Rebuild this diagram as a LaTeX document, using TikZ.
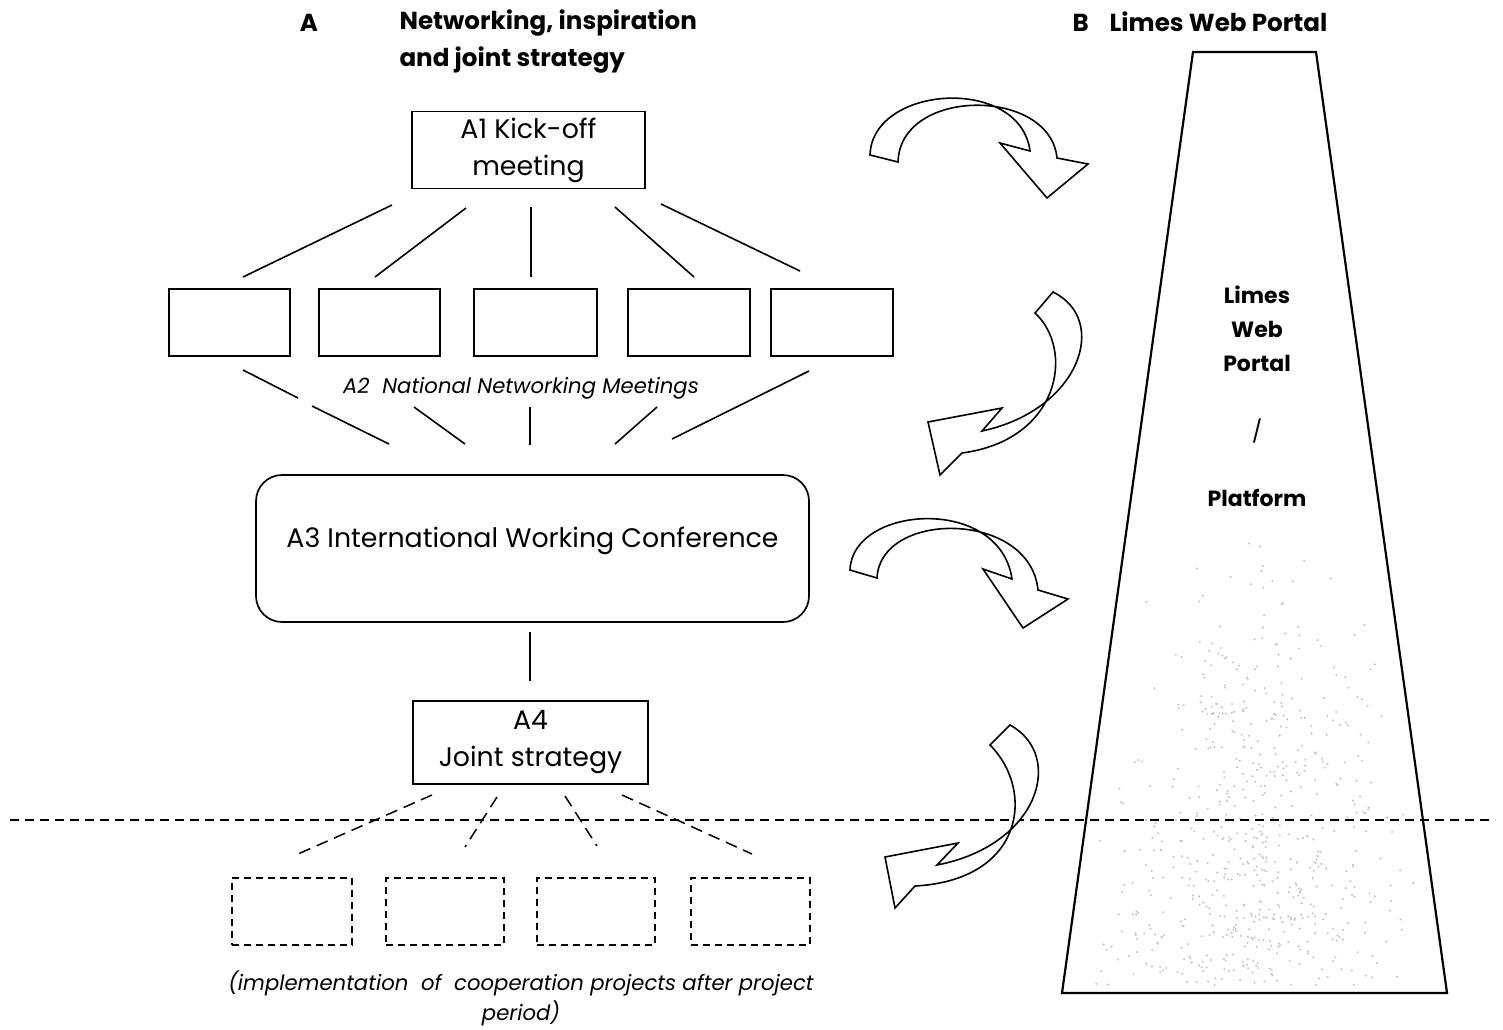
\documentclass[tikz,border=0pt]{standalone}
\usepackage{fontspec}
\setmainfont{Poppins}
\begin{document}
\begin{tikzpicture}[x=1pt,y=-1pt,
  solidbox/.style={draw, line width=1.7pt, inner sep=0pt, minimum height=67pt},
  dashbox/.style={draw, line width=1.5pt, dash pattern=on 7pt off 5pt, inner sep=0pt, minimum width=119pt, minimum height=67pt},
  link/.style={line width=1.6pt},
  dlink/.style={line width=1.5pt, dash pattern=on 12pt off 7pt},
  bigarrow/.style={draw, line width=1.6pt, fill=white, line join=miter},
  boxtext/.style={font=\fontsize{26.8}{37}\selectfont, align=center},
  headtext/.style={font=\fontsize{24.6}{37}\selectfont\bfseries},
  conetext/.style={font=\fontsize{22}{34}\selectfont\bfseries, align=center},
  ittext/.style={font=\fontsize{21.2}{30}\selectfont\itshape, align=center},
  cone/.style={draw, line width=2.2pt, line join=miter}
]
\useasboundingbox (0,0) rectangle (1503,1029);

% headings
\node[headtext] (hA) at (309,23) {A};
\node[headtext, anchor=west, align=left] (hAt) at (396,42) {Networking, inspiration\\and joint strategy};
\node[headtext, anchor=west] (hB) at (1069,22) {B\hspace{21pt}Limes Web Portal};

% trapezoid with stipple
\draw[cone] (1193,52) -- (1316,52) -- (1447,993) -- (1062,993) -- cycle;
\pgfmathsetseed{7}
\foreach \i in {1,...,650}{
  \pgfmathsetmacro\ty{540+445*sqrt(rnd)}
  \pgfmathsetmacro\fr{(\ty-52)/941}
  \pgfmathsetmacro\xl{1193-131*\fr}
  \pgfmathsetmacro\xr{1316+131*\fr}
  \pgfmathsetmacro\tx{\xl+10+(\xr-\xl-20)*(rnd+rnd)/2}
  \fill[gray!50] (\tx,\ty) circle (1.1pt);
}
\node[conetext] (wp) at (1257,329) {Limes\\Web\\Portal};
\node[conetext, font=\fontsize{22}{34}\selectfont] (sl) at (1257,431) {/};
\node[conetext] (pf) at (1257,498) {Platform};

% A1
\node[solidbox, minimum width=233pt, minimum height=77pt, boxtext] (a1) at (528.5,150) {A1 Kick-off\\meeting};

% five national boxes
\node[solidbox, minimum width=121pt] (n1) at (229.5,322.5) {};
\node[solidbox, minimum width=121pt] (n2) at (379.5,322.5) {};
\node[solidbox, minimum width=123pt] (n3) at (535.5,322.5) {};
\node[solidbox, minimum width=122pt] (n4) at (689,322.5) {};
\node[solidbox, minimum width=122pt] (n5) at (832,322.5) {};

% links A1 -> national boxes
\coordinate (t1) at (392,205); \coordinate (b1) at (243,277);
\coordinate (t2) at (466,208); \coordinate (b2) at (375,277);
\coordinate (t3) at (531,207); \coordinate (b3) at (531,277);
\coordinate (t4) at (615,207); \coordinate (b4) at (694,277);
\coordinate (t5) at (661,204); \coordinate (b5) at (800,271);
\foreach \k in {1,...,5}{\draw[link] (t\k) -- (b\k);}

% A2 label
\node[ittext] (a2) at (521,388) {A2\ \ National Networking Meetings};

% links national boxes -> A3
\coordinate (u1) at (243,370); \coordinate (v1) at (298,398);
\coordinate (u1b) at (312,406); \coordinate (v1b) at (389,444);
\coordinate (u2) at (414,407); \coordinate (v2) at (465,444);
\coordinate (u3) at (530,407); \coordinate (v3) at (530,445);
\coordinate (u4) at (657,407); \coordinate (v4) at (615,444);
\coordinate (u5) at (809,371); \coordinate (v5) at (672,439);
\draw[link] (u1) -- (v1);
\draw[link] (u1b) -- (v1b);
\draw[link] (u2) -- (v2);
\draw[link] (u3) -- (v3);
\draw[link] (u4) -- (v4);
\draw[link] (u5) -- (v5);

% A3
\node[draw, line width=1.7pt, rounded corners=26pt, minimum width=553pt, minimum height=147pt, inner sep=0pt] (a3) at (532.5,548.5) {};
\node[boxtext] (a3t) at (532.5,541) {A3 International Working Conference};

% A3 -> A4
\coordinate (w1) at (530,632); \coordinate (w2) at (530,681);
\draw[link] (w1) -- (w2);

% A4
\node[solidbox, minimum width=235pt, minimum height=83pt, boxtext] (a4) at (530.5,742.5) {A4\\Joint strategy};

% horizontal dashed line
\coordinate (hl) at (10,820); \coordinate (hr) at (1495,820);
\draw[line width=1.6pt, dash pattern=on 9pt off 6pt] (hl) -- (hr);

% dashed links
\coordinate (d1a) at (432,795); \coordinate (d1b) at (298,854);
\coordinate (d2a) at (497,797); \coordinate (d2b) at (465,847);
\coordinate (d3a) at (565,796); \coordinate (d3b) at (597,846);
\coordinate (d4a) at (622,795); \coordinate (d4b) at (752,854);
\foreach \k in {1,...,4}{\draw[dlink] (d\k a) -- (d\k b);}

% dashed boxes
\node[dashbox, minimum width=120pt] (p1) at (292,911.5) {};
\node[dashbox, minimum width=118pt] (p2) at (445,911.5) {};
\node[dashbox, minimum width=118pt] (p3) at (596,911.5) {};
\node[dashbox, minimum width=119pt] (p4) at (750.5,911.5) {};

\node[ittext] (impl) at (521,998) {(implementation\ \ of\ \ cooperation projects after project\\period)};

% curved block arrows
\path[bigarrow] (870,155) .. controls (872,85) and (1020,75) .. (1030,151)
  -- (1000,143) -- (1047,198) -- (1088,164) -- (1057,158)
  .. controls (1050,87) and (900,87) .. (898,162) -- cycle;

\path[bigarrow] (1053,292) .. controls (1110,320) and (1080,410) .. (982,431)
  -- (1002,408) -- (928,422) -- (940,475) -- (962,453)
  .. controls (1060,440) and (1075,350) .. (1035,313) -- cycle;

\path[bigarrow] (850,570) .. controls (852,505) and (1000,495) .. (1012,579)
  -- (983,569) -- (1023,628) -- (1068,599) -- (1038,590)
  .. controls (1030,510) and (880,510) .. (877,578) -- cycle;

\path[bigarrow] (1010,725) .. controls (1065,755) and (1040,845) .. (937,865)
  -- (958,843) -- (885,857) -- (895,908) -- (915,886)
  .. controls (1025,880) and (1035,790) .. (990,745) -- cycle;

\end{tikzpicture}
\end{document}
